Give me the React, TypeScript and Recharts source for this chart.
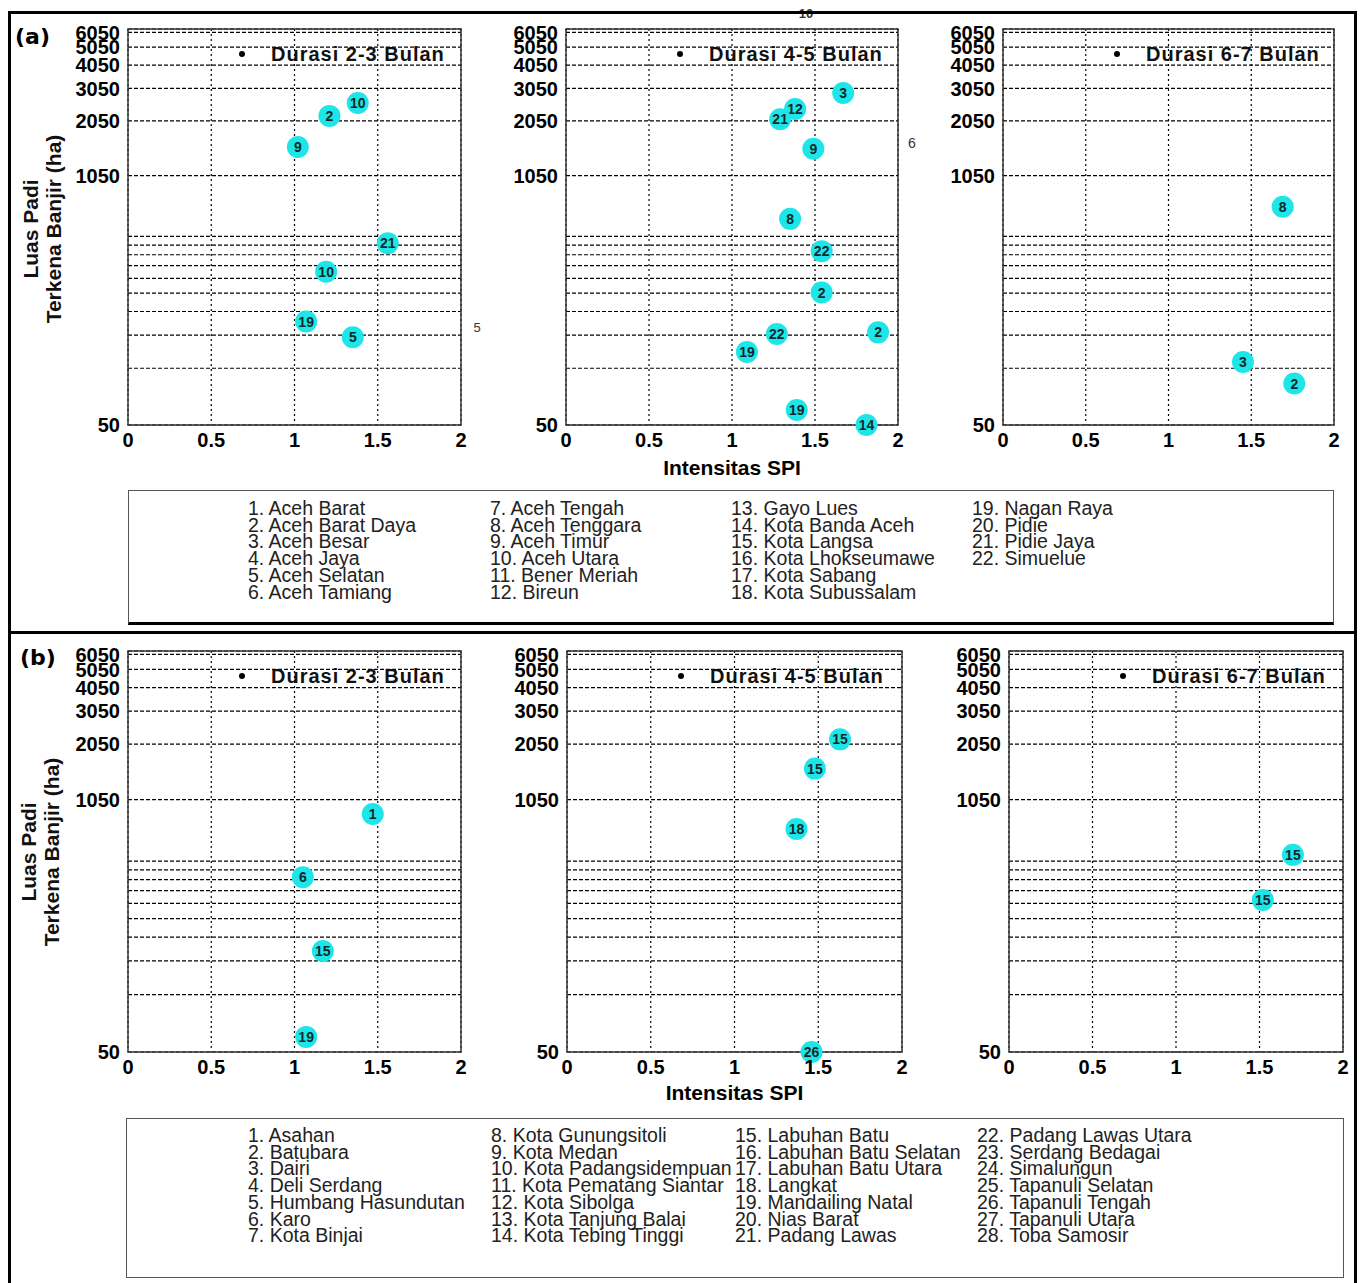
import React from "react"
import { ScatterChart, Scatter, XAxis, YAxis, CartesianGrid, ReferenceArea, Legend } from "recharts"

// axes
const spiTicks = [0, 0.5, 1, 1.5, 2]
const areaTicks = [50, 100, 150, 200, 250, 300, 350, 400, 450, 500, 1050, 2050, 3050, 4050, 5050, 6050]
const areaLabels = [50, 1050, 2050, 3050, 4050, 5050, 6050]
const durations = ["Durasi 2-3 Bulan", "Durasi 4-5 Bulan", "Durasi 6-7 Bulan"]

// (a) Aceh
const aceh23Id = [10, 2, 9, 21, 10, 19, 5]
const aceh23Spi = [1.38, 1.21, 1.02, 1.56, 1.19, 1.07, 1.35]
const aceh23Area = [2550, 2180, 1490, 460, 325, 177, 146]

const aceh45Id = [3, 12, 21, 9, 8, 22, 2, 2, 22, 19, 19, 14]
const aceh45Spi = [1.67, 1.38, 1.29, 1.49, 1.35, 1.54, 1.54, 1.88, 1.27, 1.09, 1.39, 1.81]
const aceh45Area = [2880, 2370, 2090, 1460, 620, 418, 252, 155, 152, 122, 60, 50]

const aceh67Id = [8, 3, 2]
const aceh67Spi = [1.69, 1.45, 1.76]
const aceh67Area = [718, 108, 83]

// (b) Sumatera Utara
const sumut23Id = [1, 6, 15, 19]
const sumut23Spi = [1.47, 1.05, 1.17, 1.07]
const sumut23Area = [883, 412, 169, 60]

const sumut45Id = [15, 15, 18, 26]
const sumut45Spi = [1.63, 1.48, 1.37, 1.46]
const sumut45Area = [2170, 1525, 737, 50]

const sumut67Id = [15, 15]
const sumut67Spi = [1.7, 1.52]
const sumut67Area = [539, 313]

const acehNames = [
  "Aceh Barat", "Aceh Barat Daya", "Aceh Besar", "Aceh Jaya", "Aceh Selatan", "Aceh Tamiang",
  "Aceh Tengah", "Aceh Tenggara", "Aceh Timur", "Aceh Utara", "Bener Meriah", "Bireun",
  "Gayo Lues", "Kota Banda Aceh", "Kota Langsa", "Kota Lhokseumawe", "Kota Sabang", "Kota Subussalam",
  "Nagan Raya", "Pidie", "Pidie Jaya", "Simuelue",
]
const sumutNames = [
  "Asahan", "Batubara", "Dairi", "Deli Serdang", "Humbang Hasundutan", "Karo", "Kota Binjai",
  "Kota Gunungsitoli", "Kota Medan", "Kota Padangsidempuan", "Kota Pematang Siantar", "Kota Sibolga", "Kota Tanjung Balai", "Kota Tebing Tinggi",
  "Labuhan Batu", "Labuhan Batu Selatan", "Labuhan Batu Utara", "Langkat", "Mandailing Natal", "Nias Barat", "Padang Lawas",
  "Padang Lawas Utara", "Serdang Bedagai", "Simalungun", "Tapanuli Selatan", "Tapanuli Tengah", "Tapanuli Utara", "Toba Samosir",
]

const FONT = "'Liberation Sans', Arial, sans-serif"
const Y_W = 70
const PAD = 12
const X_H = 60

const AreaTick = (props: any) => {
  const { x, y, payload } = props
  if (!areaLabels.includes(payload.value)) return <g />
  return (
    <text x={x} y={y} dy="0.36em" textAnchor="end" fontSize={20} fontWeight="bold" fill="#000" fontFamily={FONT}>
      {payload.value}
    </text>
  )
}

const Bubble = (props: any) => {
  const { cx, cy, payload } = props
  return (
    <g>
      <circle cx={cx} cy={cy} r={11} fill="#1ee6e8" />
      <text x={cx} y={cy} dy="0.36em" textAnchor="middle" fontSize={14} fontWeight="bold" fill="#0f2a2c" fontFamily={FONT}>
        {payload.id}
      </text>
    </g>
  )
}

interface PlotProps {
  ids: number[]
  spi: number[]
  area: number[]
  name: string
  left: number
  top: number
  right: number
  bottom: number
  xLabelOffset?: number
}

function SpiPlot({ ids, spi, area, name, left, top, right, bottom, xLabelOffset }: PlotProps) {
  const pts = ids.map((id, i) => ({ id, spi: spi[i], area: area[i] }))
  const w = right - left
  const h = bottom - top
  return (
    <div style={{ position: "absolute", left: left - Y_W, top: top - PAD }}>
      <ScatterChart width={w + Y_W + PAD} height={h + PAD + X_H} margin={{ top: PAD, right: PAD, bottom: 0, left: 0 }}>
        <CartesianGrid vertical={false} stroke="#000" strokeWidth={1.2} strokeDasharray="4 2" />
        <CartesianGrid horizontal={false} stroke="#000" strokeWidth={1.2} strokeDasharray="2 3" />
        <XAxis
          type="number"
          dataKey="spi"
          domain={[0, 2]}
          ticks={spiTicks}
          interval={0}
          axisLine={false}
          tickLine={false}
          height={X_H}
          tick={{ fontSize: 20, fontWeight: "bold", fill: "#000", fontFamily: FONT }}
          label={
            xLabelOffset !== undefined
              ? { value: "Intensitas SPI", position: "insideBottom", offset: xLabelOffset, fontSize: 21, fontWeight: "bold", fill: "#000", fontFamily: FONT }
              : undefined
          }
        />
        <YAxis
          type="number"
          dataKey="area"
          scale="log"
          domain={[50, 6300]}
          ticks={areaTicks}
          interval={0}
          axisLine={false}
          tickLine={false}
          width={Y_W}
          tick={AreaTick}
        />
        <ReferenceArea x1={0} x2={2} y1={50} y2={6300} fill="none" stroke="#333" strokeWidth={1.5} />
        <Legend
          layout="vertical"
          align="center"
          verticalAlign="middle"
          wrapperStyle={{ left: Y_W + 111, top: PAD + 13, width: 260, height: 24 }}
          content={({ payload }: any) => (
            <div style={{ display: "flex", alignItems: "center", height: 24, fontFamily: FONT }}>
              <span style={{ width: 6, height: 6, borderRadius: 3, background: "#000", marginRight: 26 }} />
              <span style={{ fontSize: 20, fontWeight: "bold", letterSpacing: 1, color: "#111", whiteSpace: "nowrap" }}>
                {payload?.[0]?.value ?? name}
              </span>
            </div>
          )}
        />
        <Scatter name={name} data={pts} fill="#1ee6e8" shape={Bubble} isAnimationActive={false} />
      </ScatterChart>
    </div>
  )
}

function NameList({ names, perCol, cols, top }: { names: string[]; perCol: number; cols: number[]; top: number }) {
  return (
    <>
      {cols.map((x, c) => (
        <div
          key={c}
          style={{ position: "absolute", left: x, top, fontFamily: FONT, fontSize: 19.5, lineHeight: "16.7px", color: "#222", whiteSpace: "nowrap" }}
        >
          {names.slice(c * perCol, (c + 1) * perCol).map((n, i) => (
            <div key={n}>{`${c * perCol + i + 1}. ${n}`}</div>
          ))}
        </div>
      ))}
    </>
  )
}

function YTitle({ cx, cy }: { cx: number; cy: number }) {
  return (
    <div
      style={{
        position: "absolute", left: cx, top: cy, transform: "translate(-50%, -50%) rotate(-90deg)",
        fontFamily: FONT, fontWeight: "bold", fontSize: 21, lineHeight: "23px", textAlign: "center", whiteSpace: "nowrap", color: "#111",
      }}
    >
      <div>Luas Padi</div>
      <div>Terkena Banjir (ha)</div>
    </div>
  )
}

const stray = (text: string, x: number, y: number, size: number, bold = false) => (
  <div style={{ position: "absolute", left: x, top: y, transform: "translate(-50%, -50%)", fontFamily: FONT, fontSize: size, fontWeight: bold ? "bold" : "normal", color: "#333" }}>
    {text}
  </div>
)

export default function App() {
  return (
    <div style={{ position: "absolute", left: 0, top: 0, width: 1360, height: 1283, overflow: "hidden", background: "#fff" }}>
      {stray("10", 806, 13, 13, true)}
      <div style={{ position: "absolute", left: 8, top: 11, width: 1349, height: 1290, border: "3px solid #000", boxSizing: "border-box" }} />
      <div style={{ position: "absolute", left: 8, top: 631, width: 1349, height: 3, background: "#000" }} />

      <div style={{ position: "absolute", left: 15, top: 24, fontFamily: "'DejaVu Sans', sans-serif", fontWeight: "bold", fontSize: 22 }}>(a)</div>
      <div style={{ position: "absolute", left: 20, top: 645, fontFamily: "'DejaVu Sans', sans-serif", fontWeight: "bold", fontSize: 22 }}>(b)</div>

      <YTitle cx={42} cy={229} />
      <YTitle cx={40} cy={852} />

      <SpiPlot ids={aceh23Id} spi={aceh23Spi} area={aceh23Area} name={durations[0]} left={128} top={29} right={461} bottom={425} />
      <SpiPlot ids={aceh45Id} spi={aceh45Spi} area={aceh45Area} name={durations[1]} left={566} top={29} right={898} bottom={425} xLabelOffset={10} />
      <SpiPlot ids={aceh67Id} spi={aceh67Spi} area={aceh67Area} name={durations[2]} left={1003} top={29} right={1334} bottom={425} />

      <SpiPlot ids={sumut23Id} spi={sumut23Spi} area={sumut23Area} name={durations[0]} left={128} top={651} right={461} bottom={1052} />
      <SpiPlot ids={sumut45Id} spi={sumut45Spi} area={sumut45Area} name={durations[1]} left={567} top={651} right={902} bottom={1052} xLabelOffset={12} />
      <SpiPlot ids={sumut67Id} spi={sumut67Spi} area={sumut67Area} name={durations[2]} left={1009} top={651} right={1343} bottom={1052} />

      {stray("5", 477, 327, 13)}
      {stray("6", 912, 143, 14)}

      <div style={{ position: "absolute", left: 128, top: 490, width: 1206, height: 135, border: "1px solid #555", borderBottom: "3px solid #000", boxSizing: "border-box" }} />
      <NameList names={acehNames} perCol={6} cols={[248, 490, 731, 972]} top={500} />

      <div style={{ position: "absolute", left: 126, top: 1118, width: 1218, height: 160, border: "1px solid #555", boxSizing: "border-box" }} />
      <NameList names={sumutNames} perCol={7} cols={[248, 491, 735, 977]} top={1127} />
    </div>
  )
}
